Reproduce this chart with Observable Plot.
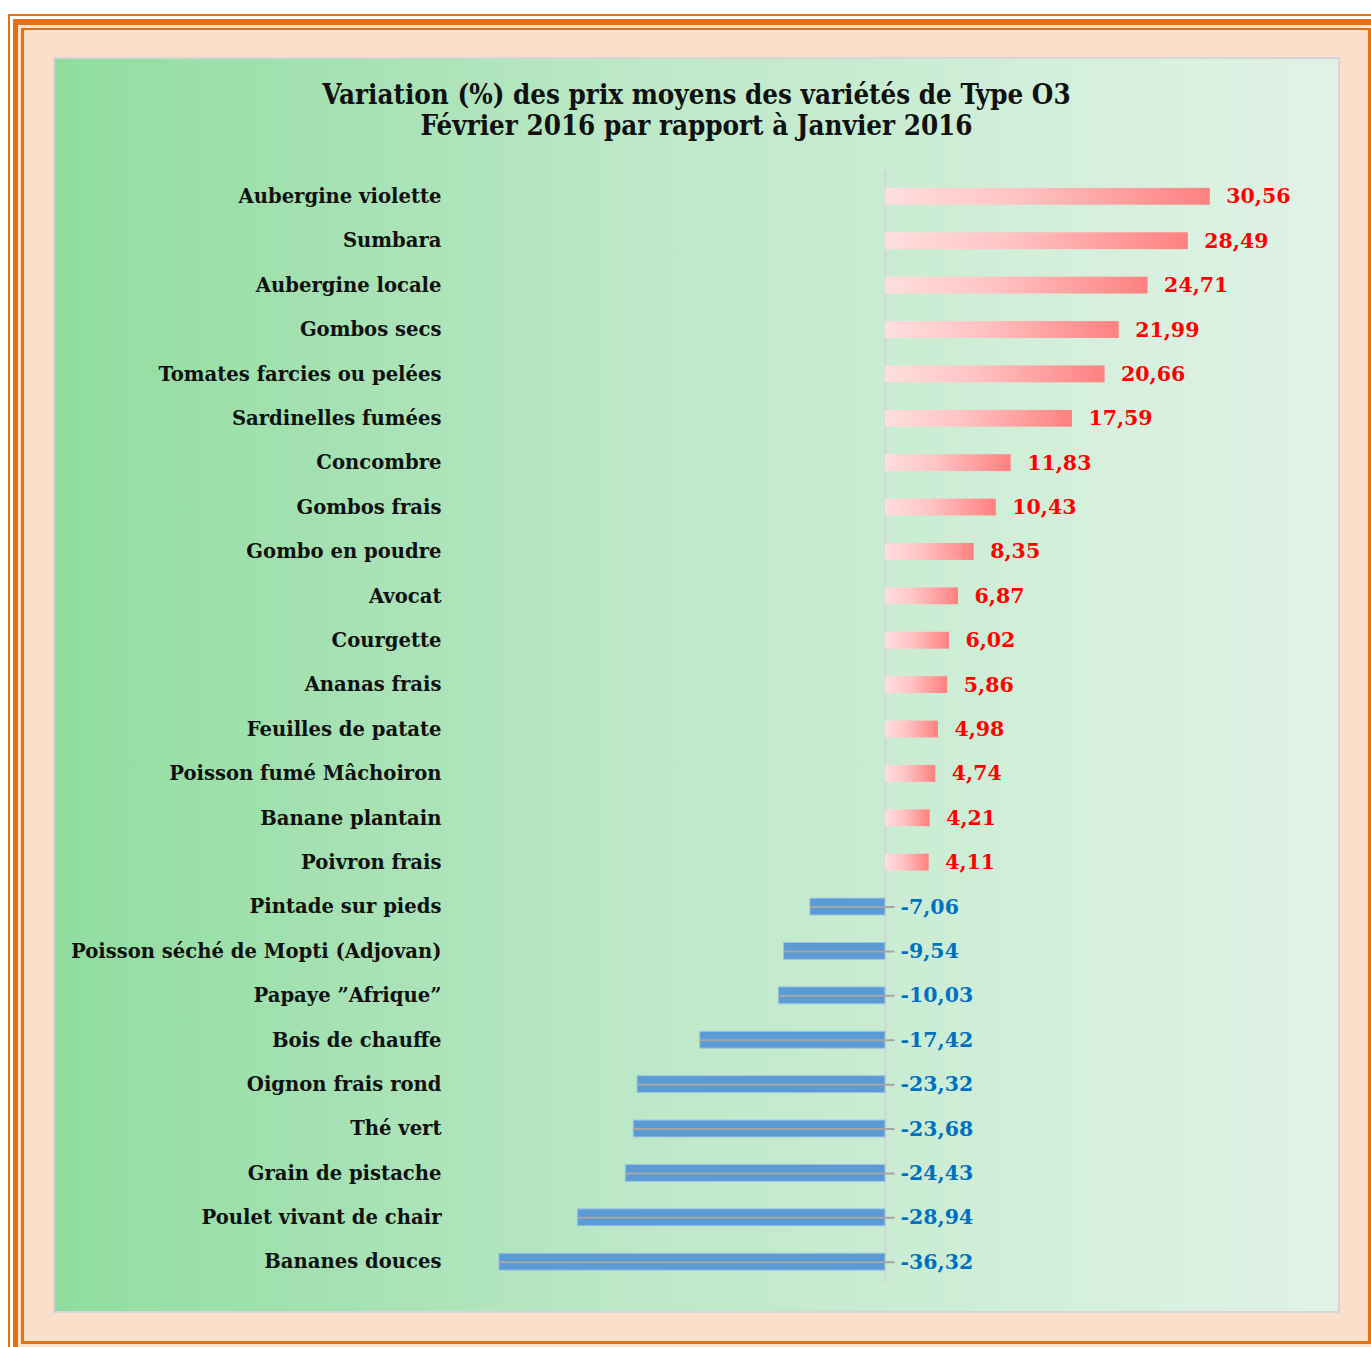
<!DOCTYPE html>
<html>
<head>
<meta charset="utf-8">
<script src="https://cdn.jsdelivr.net/npm/d3@7"></script>
<script src="https://cdn.jsdelivr.net/npm/@observablehq/plot@0.6"></script>
<style>
  html, body { margin:0; padding:0; background:#ffffff; width:1371px; height:1347px; overflow:hidden; }
  .frame { position:absolute; box-sizing:border-box; }
  #f1 { left:8px; top:14px; width:1500px; height:1500px; border:2px solid #e8700e; background:#ffffff; }
  #f2 { left:13px; top:19px; width:1500px; height:1500px; border-left:5px solid #e8700e; border-top:6px solid #e8700e; background:#fbe3d1; }
  #f3 { left:21px; top:28px; width:1350px; height:1316px; border:3px solid #e8700e; border-top-width:2px; background:#fadfca; }
  #panel { position:absolute; left:53px; top:57px; width:1287px; height:1256px; box-sizing:border-box;
           border:2px solid #d6d6d6;
           background:linear-gradient(90deg, #90dd9f 0%, #a8e2b5 25%, #bde8c7 45%, #c9ecd2 65%, #d6f0dd 82%, #e0f2e6 100%); }
  #title { position:absolute; left:0; top:0; width:100%; padding-top:20px; text-align:center;
           font-family:"DejaVu Serif Condensed","DejaVu Serif",serif; font-stretch:condensed; font-weight:bold;
           font-size:27.5px; line-height:31px; color:#111; }
  #chart { position:absolute; left:0; top:110px; line-height:0; }
</style>
</head>
<body>
<div class="frame" id="f1"></div>
<div class="frame" id="f2"></div>
<div class="frame" id="f3"></div>
<div id="panel">
  <div id="title">Variation (%) des prix moyens des variétés de Type O3<br>Février 2016 par rapport à Janvier 2016</div>
  <div id="chart"></div>
</div>
<script>
const categories = [
  "Aubergine violette", "Sumbara", "Aubergine locale", "Gombos secs", "Tomates farcies ou pelées",
  "Sardinelles fumées", "Concombre", "Gombos frais", "Gombo en poudre", "Avocat",
  "Courgette", "Ananas frais", "Feuilles de patate", "Poisson fumé Mâchoiron", "Banane plantain",
  "Poivron frais", "Pintade sur pieds", "Poisson séché de Mopti (Adjovan)", "Papaye \u201dAfrique\u201d", "Bois de chauffe",
  "Oignon frais rond", "Thé vert", "Grain de pistache", "Poulet vivant de chair", "Bananes douces"
];
const values = [
  30.56, 28.49, 24.71, 21.99, 20.66,
  17.59, 11.83, 10.43, 8.35, 6.87,
  6.02, 5.86, 4.98, 4.74, 4.21,
  4.11, -7.06, -9.54, -10.03, -17.42,
  -23.32, -23.68, -24.43, -28.94, -36.32
];

const data = categories.map((c, i) => ({cat: c, v: values[i]}));
const pos = data.filter(d => d.v >= 0);
const neg = data.filter(d => d.v < 0);
const fmt = d => d.v.toFixed(2).replace(".", ",");
const font = "'DejaVu Serif', serif";

const chart = Plot.plot({
  width: 1282,
  height: 1130,
  marginLeft: 392,
  marginRight: 80,
  marginTop: 10,
  marginBottom: 20,
  x: {domain: [-41.2, 35], axis: null},
  y: {domain: categories, padding: 0.62, paddingOuter: 0.2, round: false, label: null, axis: null},
  style: {background: "transparent", fontFamily: font, overflow: "visible"},
  marks: [
    Plot.ruleX([0], {stroke: "#d4d4d4", strokeWidth: 2, insetTop: -8, insetBottom: -4}),
    Plot.barX(pos, {x: "v", y: "cat", fill: "url(#posGrad)"}),
    Plot.barX(neg, {x: "v", y: "cat", fill: "#5b9bd5", stroke: "#9dc3e6", strokeWidth: 1}),
    Plot.ruleY(neg, {y: "cat", x1: "v", x2: d => 0.9, stroke: "#a6a6a6", strokeWidth: 2}),
    Plot.text(pos, {x: "v", y: "cat", text: fmt, dx: 16, textAnchor: "start", fill: "#ff0000",
                    fontWeight: "bold", fontSize: 20.5}),
    Plot.text(neg, {x: 0, y: "cat", text: fmt, dx: 15, textAnchor: "start", fill: "#0070c0",
                    fontWeight: "bold", fontSize: 20.5}),
    Plot.axisY({tickSize: 0, tickPadding: 6, fontSize: 19.6, fontWeight: "bold", fill: "#111", label: null})
  ]
});

const svg = d3.select(chart);
const defs = svg.insert("defs", ":first-child");
const g = defs.append("linearGradient").attr("id", "posGrad")
  .attr("x1", "0").attr("x2", "1").attr("y1", "0").attr("y2", "0");
g.append("stop").attr("offset", "0%").attr("stop-color", "#ffdede");
g.append("stop").attr("offset", "40%").attr("stop-color", "#ffc4c4");
g.append("stop").attr("offset", "100%").attr("stop-color", "#ff8080");

document.getElementById("chart").appendChild(chart);
</script>
</body>
</html>
